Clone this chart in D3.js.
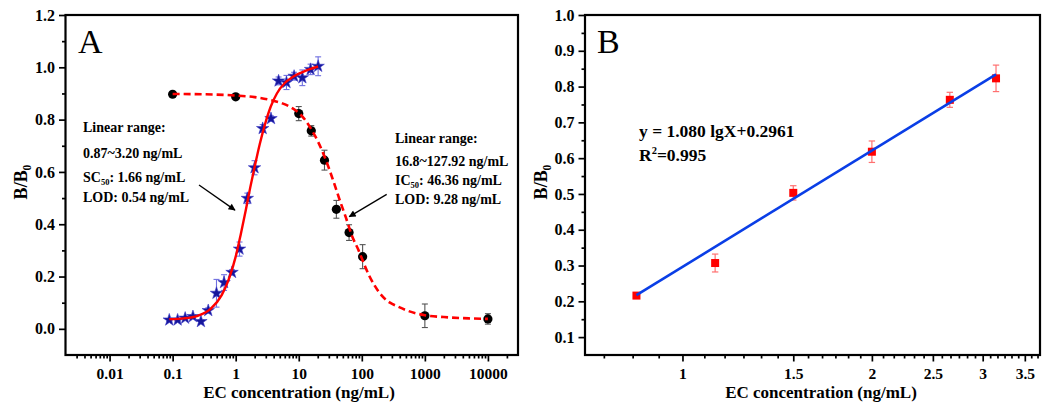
<!DOCTYPE html>
<html><head><meta charset="utf-8">
<script src="https://cdn.jsdelivr.net/npm/d3@7"></script>
<style>
body{margin:0;background:#fff}
text{font-family:"Liberation Serif","Times New Roman",serif;fill:#000}
</style>
</head><body>
<svg id="c" width="1050" height="412"></svg>
<script>
// ---------- Panel A data ----------
const starX   = [0.0885,0.12,0.158,0.21,0.281,0.367,0.496,0.654,0.875,1.15,1.53,1.99,2.68,3.63,4.79,6.39,8.44,11.4,15.4,20.3];
const starY   = [0.034,0.034,0.041,0.047,0.028,0.070,0.136,0.177,0.216,0.305,0.499,0.616,0.766,0.804,0.948,0.942,0.966,0.960,0.992,1.004];
const starErr = [0.005,0.005,0.006,0.006,0.006,0.010,0.053,0.030,0.010,0.027,0.020,0.027,0.015,0.010,0.015,0.027,0.015,0.030,0.020,0.036];

const circX   = [0.1,1,10,15.8,25.6,39.5,62.8,103,1000,10000];
const circY   = [0.897,0.887,0.823,0.757,0.645,0.457,0.368,0.276,0.050,0.038];
const circErr = [0.004,0.004,0.027,0.020,0.038,0.034,0.030,0.046,0.045,0.020];

// fitted curves
const solidX = [0.0885,0.15,0.25,0.4,0.6,0.8,1.0,1.2,1.45,1.7,2.0,2.4,2.9,3.6,4.5,6,8,11,15,20.3];
const solidY = [0.037,0.040,0.050,0.076,0.129,0.198,0.276,0.360,0.455,0.540,0.620,0.705,0.780,0.850,0.900,0.940,0.963,0.980,0.993,1.003];
const dashX  = [0.1,0.3,1,2,3.4,5.5,8,10,13,16.3,20,25,30,36,45,56,70,89,110,130,160,206,280,375,550,1000,2000,5000,10000];
const dashY  = [0.898,0.897,0.892,0.886,0.876,0.862,0.843,0.826,0.795,0.758,0.718,0.665,0.615,0.560,0.490,0.425,0.355,0.300,0.245,0.205,0.165,0.128,0.100,0.085,0.068,0.052,0.045,0.040,0.038];

const xTicksA      = [0.01,0.1,1,10,100,1000,10000];
const xTickLabelsA = ["0.01","0.1","1","10","100","1000","10000"];
const yTicksA      = [0.0,0.2,0.4,0.6,0.8,1.0,1.2];
const yTickLabelsA = ["0.0","0.2","0.4","0.6","0.8","1.0","1.2"];

// arrows in data coordinates [x0,y0,x1,y1]
const arrowsA = [[0.262,0.55,0.974,0.454],[248,0.514,63.4,0.429]];

// ---------- Panel B data ----------
const bX   = [0.845,1.127,1.5,2.0,2.66,3.15];
const bY   = [0.216,0.307,0.503,0.618,0.763,0.823];
const bErr = [0.004,0.025,0.020,0.030,0.021,0.037];
const fitSlope = 1.080, fitIntercept = 0.2961;
const fitRange = [0.845,3.15];

const xTicksB      = [1,1.5,2,2.5,3,3.5];
const xTickLabelsB = ["1","1.5","2","2.5","3","3.5"];
const yTicksB      = [0.1,0.2,0.3,0.4,0.5,0.6,0.7,0.8,0.9,1.0];
const yTickLabelsB = ["0.1","0.2","0.3","0.4","0.5","0.6","0.7","0.8","0.9","1.0"];

// ---------- drawing ----------
const svg = d3.select("#c");
const defs = svg.append("defs");
defs.append("marker").attr("id","arr").attr("viewBox","0 0 10 10").attr("refX",9).attr("refY",5)
  .attr("markerWidth",9).attr("markerHeight",7).attr("markerUnits","userSpaceOnUse").attr("orient","auto")
  .append("path").attr("d","M0,0 L10,5 L0,10 z").attr("fill","#000");

const A = {l:65.5, r:518, t:15, b:355};
const B = {l:585, r:1040, t:15, b:355};

const xA = d3.scaleLog().domain([0.002,30000]).range([A.l,A.r]);
const yA = d3.scaleLinear().domain([-0.1,1.2]).range([A.b,A.t]);
const xB = d3.scaleLog().domain([0.7,3.7]).range([B.l,B.r]);
const yB = d3.scaleLinear().domain([0.05,1.0]).range([B.b,B.t]);

function styleAxis(g, fs){
  g.select(".domain").remove();
  g.selectAll(".tick line").attr("stroke","#000").attr("stroke-width",1.7);
  g.selectAll(".tick text").attr("font-size",fs).attr("font-weight","bold")
   .attr("font-family","'Liberation Serif','Times New Roman',serif").attr("fill","#000");
}

function axes(P, x, y, xt, xl, xminor, yt, yl, yminor){
  const gxm = svg.append("g").attr("transform",`translate(0,${P.b})`)
    .call(d3.axisBottom(x).tickValues(xminor).tickSize(3.5).tickSizeOuter(0).tickFormat(""));
  styleAxis(gxm,15.5);
  const gym = svg.append("g").attr("transform",`translate(${P.l},0)`)
    .call(d3.axisLeft(y).tickValues(yminor).tickSize(3.5).tickSizeOuter(0).tickFormat(""));
  styleAxis(gym,15.5);
  const gx = svg.append("g").attr("transform",`translate(0,${P.b})`)
    .call(d3.axisBottom(x).tickValues(xt).tickSize(6.5).tickPadding(6).tickSizeOuter(0)
      .tickFormat((d,i)=>xl[i]));
  styleAxis(gx,15.5);
  const gy = svg.append("g").attr("transform",`translate(${P.l},0)`)
    .call(d3.axisLeft(y).tickValues(yt).tickSize(6.5).tickPadding(4).tickSizeOuter(0)
      .tickFormat((d,i)=>yl[i]));
  styleAxis(gy,16);
  svg.append("rect").attr("x",P.l).attr("y",P.t).attr("width",P.r-P.l).attr("height",P.b-P.t)
    .attr("fill","none").attr("stroke","#000").attr("stroke-width",2.2);
}

const xMinorA = [];
for (let e=-3;e<=4;e++) for (let m=2;m<=9;m++){ const v=m*Math.pow(10,e); if(v>0.002 && v<30000) xMinorA.push(v); }
const yMinorA = [0.1,0.3,0.5,0.7,0.9,1.1];
axes(A,xA,yA,xTicksA,xTickLabelsA,xMinorA,yTicksA,yTickLabelsA,yMinorA);

const xMinorB = [];
for (let a=0.5;a<3.7;a+=0.5) for (let k=1;k<6;k++){ const v=a+k*0.5/6; if(v>0.7 && v<3.7) xMinorB.push(v); }
const yMinorB = [0.15,0.25,0.35,0.45,0.55,0.65,0.75,0.85,0.95];
axes(B,xB,yB,xTicksB,xTickLabelsB,xMinorB,yTicksB,yTickLabelsB,yMinorB);

function errBars(xs, ys, es, x, y, color, cap, w){
  const g = svg.append("g").attr("stroke",color).attr("stroke-width",w).attr("fill","none");
  xs.forEach((xv,i)=>{
    const cx = x(xv), y0 = y(ys[i]-es[i]), y1 = y(ys[i]+es[i]);
    g.append("line").attr("x1",cx).attr("x2",cx).attr("y1",y0).attr("y2",y1);
    g.append("line").attr("x1",cx-cap).attr("x2",cx+cap).attr("y1",y0).attr("y2",y0);
    g.append("line").attr("x1",cx-cap).attr("x2",cx+cap).attr("y1",y1).attr("y2",y1);
  });
}

// ----- Panel A marks -----
errBars(circX,circY,circErr,xA,yA,"#555",3,1.1);
errBars(starX,starY,starErr,xA,yA,"#7070e0",3,1.1);

svg.append("g").selectAll("circle").data(circX).join("circle")
  .attr("cx",d=>xA(d)).attr("cy",(d,i)=>yA(circY[i])).attr("r",4.6).attr("fill","#000");

const star = d3.symbol().type(d3.symbolStar).size(48);
svg.append("g").selectAll("path").data(starX).join("path")
  .attr("d",star).attr("transform",(d,i)=>`translate(${xA(d)},${yA(starY[i])})`)
  .attr("fill","#16169a").attr("stroke","#3a3ac8").attr("stroke-width",0.6);

const lineA = d3.line().x(d=>xA(d[0])).y(d=>yA(d[1])).curve(d3.curveMonotoneX);
svg.append("path").attr("d",lineA(dashX.map((v,i)=>[v,dashY[i]])))
  .attr("fill","none").attr("stroke","#ff0000").attr("stroke-width",2.6).attr("stroke-dasharray","7,4");
svg.append("path").attr("d",lineA(solidX.map((v,i)=>[v,solidY[i]])))
  .attr("fill","none").attr("stroke","#ff0000").attr("stroke-width",2.4);

arrowsA.forEach(a=>{
  svg.append("line").attr("x1",xA(a[0])).attr("y1",yA(a[1])).attr("x2",xA(a[2])).attr("y2",yA(a[3]))
    .attr("stroke","#000").attr("stroke-width",1.3).attr("marker-end","url(#arr)");
});

svg.append("text").attr("x",78).attr("y",52.5).attr("font-size",34).text("A");
function lines(x, rows){
  rows.forEach(r=>{
    const t = svg.append("text").attr("x",x).attr("y",r.y).attr("font-size",14).attr("font-weight","bold");
    r.parts.forEach(p=>{
      const s = t.append("tspan").text(p.t);
      if (p.sub){ s.attr("font-size",8.5).attr("dy",3); }
      if (p.back){ s.attr("dy",-3); }
    });
  });
}
lines(83,[
  {y:132,parts:[{t:"Linear range:"}]},
  {y:158,parts:[{t:"0.87~3.20 ng/mL"}]},
  {y:181.5,parts:[{t:"SC"},{t:"50",sub:true},{t:": 1.66 ng/mL",back:true}]},
  {y:202,parts:[{t:"LOD: 0.54 ng/mL"}]}
]);
lines(395,[
  {y:142.5,parts:[{t:"Linear range:"}]},
  {y:165.5,parts:[{t:"16.8~127.92 ng/mL"}]},
  {y:184.5,parts:[{t:"IC"},{t:"50",sub:true},{t:": 46.36 ng/mL",back:true}]},
  {y:204,parts:[{t:"LOD: 9.28 ng/mL"}]}
]);

// ----- Panel B marks -----
errBars(bX,bY,bErr,xB,yB,"#ff7070",3.2,1.2);
svg.append("g").selectAll("rect").data(bX).join("rect")
  .attr("x",d=>xB(d)-4).attr("y",(d,i)=>yB(bY[i])-4).attr("width",8).attr("height",8).attr("fill","#ff0000");
const fitPts = fitRange.map(v=>[v, fitSlope*Math.log10(v)+fitIntercept]);
svg.append("path").attr("d",d3.line().x(d=>xB(d[0])).y(d=>yB(d[1]))(fitPts))
  .attr("fill","none").attr("stroke","#0a3ee6").attr("stroke-width",2.6);

svg.append("text").attr("x",597).attr("y",52.5).attr("font-size",34).text("B");
svg.append("text").attr("x",639).attr("y",136.5).attr("font-size",17.5).attr("font-weight","bold")
  .text("y = 1.080 lgX+0.2961");
const r2 = svg.append("text").attr("x",639).attr("y",161).attr("font-size",17.5).attr("font-weight","bold");
r2.append("tspan").text("R");
r2.append("tspan").text("2").attr("font-size",10.5).attr("dy",-7);
r2.append("tspan").text("=0.995").attr("dy",7);

function yTitle(cx){
  const t = svg.append("text").attr("transform",`translate(${cx},182) rotate(-90)`)
    .attr("text-anchor","middle").attr("font-size",18).attr("font-weight","bold");
  t.append("tspan").text("B/B");
  t.append("tspan").text("0").attr("font-size",11.5).attr("dy",4);
}
yTitle(27);
yTitle(547);
svg.append("text").attr("x",299).attr("y",398).attr("text-anchor","middle").attr("font-size",17)
  .attr("font-weight","bold").text("EC concentration (ng/mL)");
svg.append("text").attr("x",821).attr("y",398).attr("text-anchor","middle").attr("font-size",17)
  .attr("font-weight","bold").text("EC concentration (ng/mL)");
</script>
</body></html>
